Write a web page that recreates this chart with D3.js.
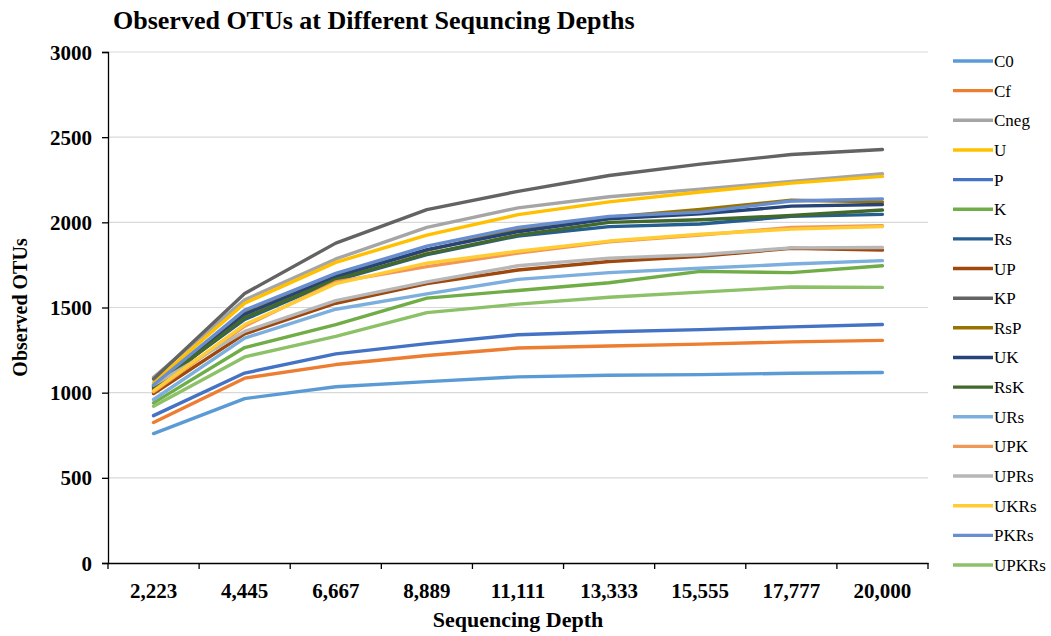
<!DOCTYPE html>
<html>
<head>
<meta charset="utf-8">
<script src="https://cdn.jsdelivr.net/npm/d3@7"></script>
<style>
  html, body { margin: 0; padding: 0; background: #ffffff; }
  svg { display: block; }
  text { font-family: "Liberation Serif", "Times New Roman", serif; fill: #000; }
</style>
</head>
<body>
<svg id="chart" width="1051" height="636"></svg>
<script>
// Sequencing depths (x categories)
const depths = ["2,223", "4,445", "6,667", "8,889", "11,111", "13,333", "15,555", "17,777", "20,000"];

// Y axis tick values
const yTicks = [0, 500, 1000, 1500, 2000, 2500, 3000];

// Series names, in legend order
const seriesNames = ["C0", "Cf", "Cneg", "U", "P", "K", "Rs", "UP", "KP", "RsP", "UK", "RsK", "URs", "UPK", "UPRs", "UKRs", "PKRs", "UPKRs"];

// Observed OTUs per sample at each depth
const C0    = [760, 965, 1035, 1065, 1093, 1102, 1106, 1114, 1118];
const Cf    = [825, 1085, 1165, 1218, 1262, 1274, 1285, 1298, 1307];
const Cneg  = [1090, 1545, 1785, 1970, 2085, 2150, 2195, 2240, 2285];
const U     = [1060, 1525, 1765, 1925, 2045, 2120, 2178, 2230, 2270];
const P     = [865, 1115, 1228, 1288, 1340, 1358, 1370, 1386, 1400];
const K     = [940, 1265, 1400, 1555, 1600, 1645, 1712, 1705, 1745];
const Rs    = [1040, 1430, 1660, 1810, 1920, 1975, 1990, 2035, 2047];
const UP    = [995, 1345, 1525, 1640, 1720, 1770, 1800, 1848, 1837];
const KP    = [1080, 1582, 1878, 2075, 2182, 2275, 2342, 2398, 2428];
const RsP   = [1035, 1470, 1690, 1835, 1960, 2030, 2075, 2130, 2120];
const UK    = [1020, 1460, 1680, 1840, 1945, 2020, 2050, 2095, 2105];
const RsK   = [1030, 1440, 1665, 1815, 1925, 2000, 2015, 2040, 2072];
const URs   = [960, 1320, 1490, 1580, 1665, 1705, 1730, 1755, 1775];
const UPK   = [1005, 1390, 1650, 1740, 1820, 1885, 1925, 1970, 1980];
const UPRs  = [1045, 1360, 1540, 1650, 1745, 1790, 1810, 1850, 1852];
const UKRs  = [1010, 1400, 1640, 1760, 1830, 1890, 1930, 1960, 1975];
const PKRs  = [1045, 1485, 1700, 1860, 1970, 2035, 2060, 2125, 2138];
const UPKRs = [920, 1210, 1330, 1470, 1520, 1560, 1590, 1620, 1618];

const seriesValues = [C0, Cf, Cneg, U, P, K, Rs, UP, KP, RsP, UK, RsK, URs, UPK, UPRs, UKRs, PKRs, UPKRs];

// Line colours, in legend order
const seriesColors = ["#5b9bd5", "#ed7d31", "#a5a5a5", "#ffc000", "#4472c4", "#70ad47",
                      "#255e91", "#9e480e", "#636363", "#997300", "#264478", "#43682b",
                      "#7cafdd", "#f1975a", "#b7b7b7", "#ffcd33", "#698ed0", "#8cc168"];

const series = seriesNames.map((name, i) => ({ name, values: seriesValues[i], color: seriesColors[i] }));

const svg = d3.select("#chart");
const plot = { left: 108, right: 928, top: 52, bottom: 563 };

const x = d3.scaleBand().domain(depths).range([plot.left, plot.right]).paddingInner(0).paddingOuter(0);
const y = d3.scaleLinear().domain([0, 3000]).range([plot.bottom, plot.top]);

// Horizontal gridlines
svg.append("g")
  .selectAll("line")
  .data(yTicks.filter(d => d > 0))
  .join("line")
  .attr("x1", plot.left).attr("x2", plot.right)
  .attr("y1", d => y(d)).attr("y2", d => y(d))
  .attr("stroke", "#d9d9d9").attr("stroke-width", 1.2);

// Y axis
const yAxis = svg.append("g")
  .attr("transform", `translate(${plot.left},0)`)
  .call(d3.axisLeft(y).tickValues(yTicks).tickFormat(d3.format("d")).tickSize(6).tickPadding(10));
yAxis.select(".domain").attr("stroke", "#000").attr("stroke-width", 1.3);
yAxis.selectAll(".tick line").attr("stroke", "#000").attr("stroke-width", 1.3);
yAxis.selectAll(".tick text")
  .attr("dy", "0.34em")
  .style("font-family", "'Liberation Serif', serif")
  .style("font-size", "21px").style("font-weight", "bold");

// X axis: labels centred on each category, tick marks between categories
const xAxis = svg.append("g")
  .attr("transform", `translate(0,${plot.bottom})`)
  .call(d3.axisBottom(x).tickSize(0).tickPadding(20));
xAxis.select(".domain").attr("stroke", "#000").attr("stroke-width", 1.3);
xAxis.selectAll(".tick text")
  .style("font-family", "'Liberation Serif', serif")
  .style("font-size", "21px").style("font-weight", "bold");

const boundaries = depths.map(d => x(d)).concat([x(depths[depths.length - 1]) + x.bandwidth()]);
svg.append("g")
  .selectAll("line")
  .data(boundaries)
  .join("line")
  .attr("x1", d => d).attr("x2", d => d)
  .attr("y1", plot.bottom).attr("y2", plot.bottom + 6)
  .attr("stroke", "#000").attr("stroke-width", 1.3);

// Series lines
const line = d3.line()
  .x((d, i) => x(depths[i]) + x.bandwidth() / 2)
  .y(d => y(d));

svg.append("g")
  .selectAll("path")
  .data(series)
  .join("path")
  .attr("d", d => line(d.values))
  .attr("fill", "none")
  .attr("stroke", d => d.color)
  .attr("stroke-width", 3.4)
  .attr("stroke-linejoin", "round")
  .attr("stroke-linecap", "round");

// Title
svg.append("text")
  .attr("x", 113).attr("y", 29)
  .style("font-size", "26px").style("font-weight", "bold")
  .text("Observed OTUs at Different Sequncing Depths");

// Axis titles
svg.append("text")
  .attr("transform", `translate(27,${(plot.top + plot.bottom) / 2}) rotate(-90)`)
  .attr("text-anchor", "middle")
  .style("font-size", "20px").style("font-weight", "bold")
  .text("Observed OTUs");

svg.append("text")
  .attr("x", 518).attr("y", 627)
  .attr("text-anchor", "middle")
  .style("font-size", "22px").style("font-weight", "bold")
  .text("Sequencing Depth");

// Legend
const legendY = d3.scalePoint().domain(seriesNames).range([61, 565]);
const legend = svg.append("g")
  .selectAll("g")
  .data(series)
  .join("g")
  .attr("transform", d => `translate(953,${legendY(d.name)})`);
legend.append("line")
  .attr("x1", 0).attr("x2", 40).attr("y1", 0).attr("y2", 0)
  .attr("stroke", d => d.color).attr("stroke-width", 3.4);
legend.append("text")
  .attr("x", 41).attr("y", 6)
  .style("font-size", "17px")
  .text(d => d.name);
</script>
</body>
</html>
